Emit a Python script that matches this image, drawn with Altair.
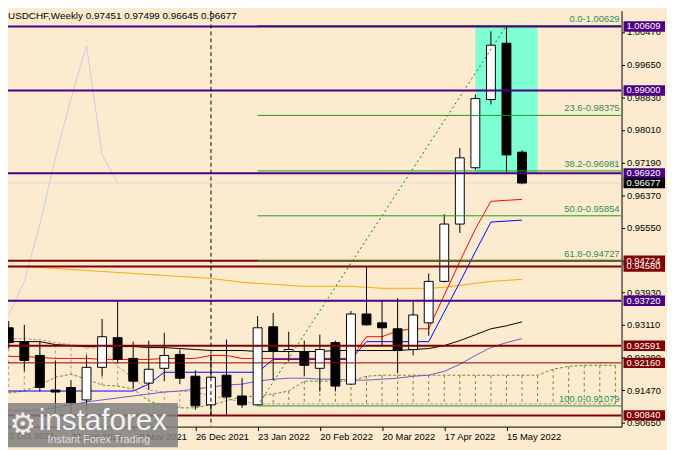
import json
import pandas as pd
import altair as alt

# ---------------- data ----------------
title_text = "USDCHF,Weekly  0.97451 0.97499 0.96645 0.96677"

week_idx = list(range(34))
opens = [0.93041, 0.92693, 0.92346, 0.91477, 0.91541, 0.91229, 0.92048, 0.92793, 0.92272, 0.91651,
         0.92023, 0.92371, 0.91825, 0.91105, 0.91850, 0.91329, 0.91105, 0.93066, 0.92445, 0.92445,
         0.92023, 0.92669, 0.91626, 0.93388, 0.93165, 0.93016, 0.92495, 0.93165, 0.94207, 0.95646,
         0.97061, 0.98773, 1.00187, 0.97451]
highs = [0.93214, 0.93115, 0.92693, 0.92222, 0.91726, 0.92346, 0.93264, 0.93711, 0.92693, 0.92718,
         0.92917, 0.92495, 0.91974, 0.92371, 0.92743, 0.91775, 0.93338, 0.93413, 0.92941, 0.92718,
         0.92867, 0.92718, 0.93462, 0.94579, 0.93711, 0.93785, 0.93686, 0.94406, 0.95894, 0.97557,
         0.98897, 1.00485, 1.00609, 0.97499]
lows = [0.92520, 0.91949, 0.91442, 0.90900, 0.90907, 0.90981, 0.91825, 0.92147, 0.91527, 0.91477,
        0.91701, 0.91626, 0.90981, 0.90832, 0.90857, 0.91031, 0.91079, 0.91726, 0.92197, 0.91825,
        0.91442, 0.91442, 0.91601, 0.93090, 0.92569, 0.91899, 0.92346, 0.92842, 0.94182, 0.95423,
        0.97011, 0.98649, 0.96920, 0.96645]
closes = [0.92669, 0.92222, 0.91541, 0.91428, 0.91155, 0.92048, 0.92817, 0.92247, 0.91701, 0.91999,
          0.92346, 0.91775, 0.91080, 0.91800, 0.91304, 0.91105, 0.93041, 0.92445, 0.92495, 0.92098,
          0.92495, 0.91577, 0.93388, 0.93115, 0.93041, 0.92470, 0.93363, 0.94207, 0.95646, 0.97309,
          0.98798, 1.00138, 0.97383, 0.96677]

tenkan = [0.92321, 0.92321, 0.92296, 0.92272, 0.92272, 0.92272, 0.92247, 0.92247, 0.92247, 0.92247,
          0.92272, 0.92272, 0.92272, 0.92346, 0.92346, 0.92272, 0.92272, 0.92272, 0.92272, 0.92272,
          0.92272, 0.92272, 0.92272, 0.92817, 0.92817, 0.92966, 0.93016, 0.93016, 0.93860, 0.94703,
          0.95522, 0.96217, 0.96242, 0.96267]
kijun = [0.91453, 0.91453, 0.91453, 0.91453, 0.91453, 0.91453, 0.91453, 0.91453, 0.91453, 0.91626,
         0.91924, 0.91924, 0.91924, 0.91924, 0.91924, 0.91924, 0.91924, 0.92247, 0.92247, 0.92247,
         0.92247, 0.92247, 0.92247, 0.92693, 0.92693, 0.92693, 0.92693, 0.92693, 0.93438, 0.94182,
         0.94951, 0.95696, 0.95721, 0.95745]
ma_black = [0.92693, 0.92693, 0.92693, 0.92619, 0.92594, 0.92569, 0.92569, 0.92569, 0.92569, 0.92544,
            0.92544, 0.92520, 0.92495, 0.92470, 0.92470, 0.92470, 0.92445, 0.92445, 0.92445, 0.92445,
            0.92445, 0.92470, 0.92470, 0.92470, 0.92470, 0.92470, 0.92495, 0.92520, 0.92594, 0.92718,
            0.92867, 0.93016, 0.93090, 0.93190]
ma_slate = [0.90956, 0.90956, 0.90981, 0.91031, 0.91105, 0.91180, 0.91229, 0.91279, 0.91329, 0.91378,
            0.91428, 0.91453, 0.91502, 0.91552, 0.91602, 0.91626, 0.91701, 0.91750, 0.91775, 0.91775,
            0.91750, 0.91750, 0.91726, 0.91726, 0.91750, 0.91775, 0.91825, 0.91850, 0.91949, 0.92123,
            0.92346, 0.92544, 0.92669, 0.92768]
ma_orange = [0.94579, 0.94579, 0.94554, 0.94530, 0.94505, 0.94480, 0.94455, 0.94430, 0.94406, 0.94381,
             0.94356, 0.94331, 0.94306, 0.94281, 0.94232, 0.94182, 0.94157, 0.94133, 0.94108, 0.94083,
             0.94083, 0.94083, 0.94083, 0.94058, 0.94033, 0.94033, 0.94033, 0.94033, 0.94058, 0.94108,
             0.94157, 0.94207, 0.94232, 0.94257]

cloud_idx = list(range(40))
span_a = [0.91403, 0.91453, 0.91602, 0.91800, 0.91874, 0.91750, 0.91602, 0.91577, 0.91502, 0.91205,
          0.91080, 0.91031, 0.91031, 0.91105, 0.91205, 0.91304, 0.91329, 0.91378, 0.91453, 0.91701,
          0.91701, 0.91701, 0.91701, 0.91825, 0.91850, 0.91850, 0.91850, 0.91850, 0.91850, 0.91850,
          0.91850, 0.91850, 0.91850, 0.91850, 0.91850, 0.91999, 0.92073, 0.92098, 0.92098, 0.92098]
span_b = [0.92768, 0.92768, 0.92743, 0.92669, 0.92619, 0.92544, 0.92520, 0.92073, 0.91775, 0.91477,
          0.91428, 0.91453, 0.91428, 0.91329, 0.91254, 0.91180, 0.91130, 0.91130, 0.91130, 0.91130,
          0.91130, 0.91130, 0.91130, 0.91130, 0.91130, 0.91130, 0.91130, 0.91130, 0.91130, 0.91130,
          0.91130, 0.91130, 0.91130, 0.91130, 0.91130, 0.91130, 0.91130, 0.91130, 0.91130, 0.91130]

chikou_idx = [0, 1, 2, 3, 4, 5, 6, 7]
chikou = [0.93363, 0.94207, 0.95646, 0.97309, 0.98798, 1.00138, 0.97383, 0.96677]

purple_levels = [1.00609, 0.99000, 0.96920, 0.93720]
maroon_levels = [0.94724, 0.94580, 0.92591, 0.90840]
maroon_thin_levels = [0.92160]
bid_price = [0.96677]

fib_names = ["0.0", "23.6", "38.2", "50.0", "61.8", "100.0"]
fib_prices = [1.00629, 0.98375, 0.96981, 0.95854, 0.94727, 0.91079]
fib_anchor_idx = [16, 32]
fib_anchor_price = [0.91079, 1.00629]

box_idx = [30, 34]
box_prices = [0.96920, 1.00629]

vline_idx = [13]

axis_prices = [1.00470, 0.99650, 0.98830, 0.98010, 0.97190, 0.96370, 0.95550,
               0.94730, 0.93930, 0.93110, 0.92290, 0.91470, 0.90650]
date_tick_idx = [0, 4, 8, 12, 16, 20, 24, 28, 32]
date_labels = ["3 Oct 2021", "31 Oct 2021", "28 Nov 2021", "26 Dec 2021", "23 Jan 2022",
               "20 Feb 2022", "20 Mar 2022", "17 Apr 2022", "15 May 2022"]

tag_prices = [1.00609, 0.99000, 0.96920, 0.93720, 0.94724, 0.94580, 0.92591, 0.92160, 0.90840, 0.96677]
tag_colors = ["#4b0082", "#4b0082", "#4b0082", "#4b0082", "#800000", "#800000", "#800000",
              "#800000", "#800000", "#000000"]

# ---------------- layout / style ----------------
W, H = 621, 421
FONT = "Liberation Sans"
BG = "#fdebd0"

XS = alt.Scale(domain=[0.26875, 39.08125], nice=False, zero=False)
YS = alt.Scale(domain=[0.905593, 1.01006], nice=False, zero=False)

label_map = {str(i): l for i, l in zip(date_tick_idx, date_labels)}
XA = alt.Axis(values=date_tick_idx[1:], labelExpr=json.dumps(label_map) + "[datum.value]",
              title=None, grid=False, orient="bottom", domainColor="black", tickColor="black",
              tickSize=4, labelFont=FONT, labelFontSize=9.5, labelColor="black",
              labelAlign="left", labelBaseline="top", labelPadding=1, labelFlush=False,
              labelOverlap=False)
YA = alt.Axis(values=axis_prices, format=".5f", orient="right", title=None, grid=False,
              domainColor="black", tickColor="black", tickSize=3, labelFont=FONT,
              labelFontSize=9.5, labelColor="black", labelPadding=2, labelAlign="left",
              labelBaseline="middle", labelOverlap=False, labelFlush=False)


def X(f):
    return alt.X(f, type="quantitative", scale=XS, axis=XA)


def Y(f):
    return alt.Y(f, type="quantitative", scale=YS, axis=YA)


candles = pd.DataFrame({"idx": week_idx, "open": opens, "high": highs, "low": lows, "close": closes})
ind = pd.DataFrame({"idx": week_idx, "tenkan": tenkan, "kijun": kijun, "black": ma_black,
                    "slate": ma_slate, "orange": ma_orange})
cloud = pd.DataFrame({"idx": cloud_idx, "a": span_a, "b": span_b})
chik = pd.DataFrame({"idx": chikou_idx, "v": chikou})
fib = pd.DataFrame({"name": fib_names, "price": fib_prices, "start": [fib_anchor_idx[0]] * len(fib_prices)})
fib["label"] = fib["name"] + "-" + fib["price"].map(lambda v: f"{v:.5f}")
diag = pd.DataFrame({"idx": fib_anchor_idx, "price": fib_anchor_price})
box = pd.DataFrame({"x1": [box_idx[0]], "x2": [box_idx[1]], "y1": [box_prices[0]], "y2": [box_prices[1]]})
tags = pd.DataFrame({"price": tag_prices, "col": tag_colors, "order": list(range(len(tag_prices)))})
one = pd.DataFrame({"t": [title_text]})

layers = []

# aquamarine rectangle
layers.append(alt.Chart(box).mark_rect(color="#7fffd4", clip=True).encode(
    x=X("x1"), x2="x2", y=Y("y1"), y2="y2"))

# ichimoku cloud hatching + spans
layers.append(alt.Chart(cloud).mark_rule(strokeDash=[3, 3], strokeWidth=1, clip=True).encode(
    x=X("idx"), y=Y("a"), y2="b",
    color=alt.condition("datum.a > datum.b", alt.value("#6b8e23"), alt.value("#bc8f8f"))))
layers.append(alt.Chart(cloud).mark_line(color="#bc8f8f", strokeDash=[3, 2], strokeWidth=1, clip=True).encode(
    x=X("idx"), y=Y("b")))
layers.append(alt.Chart(cloud).mark_line(color="#6b8e23", strokeDash=[3, 2], strokeWidth=1, clip=True).encode(
    x=X("idx"), y=Y("a")))

# bid line
layers.append(alt.Chart(pd.DataFrame({"p": bid_price})).mark_rule(color="#d9d9e6", strokeWidth=1, clip=True).encode(
    y=Y("p")))

# indicator lines
for field, col in [("orange", "#ffa500"), ("slate", "#6a5acd"), ("black", "#000000"),
                   ("tenkan", "#ff0000"), ("kijun", "#0000ff")]:
    layers.append(alt.Chart(ind).mark_line(color=col, strokeWidth=1, clip=True).encode(
        x=X("idx"), y=Y(field)))
layers.append(alt.Chart(chik).mark_line(color="#c6cbe4", strokeWidth=1, clip=True).encode(
    x=X("idx"), y=Y("v")))

# candles
layers.append(alt.Chart(candles).mark_rule(color="black", strokeWidth=1, clip=True).encode(
    x=X("idx"), y=Y("low"), y2="high"))
layers.append(alt.Chart(candles).mark_bar(size=9, stroke="black", strokeWidth=1, clip=True).encode(
    x=X("idx"), y=Y("open"), y2="close",
    fill=alt.condition("datum.close >= datum.open", alt.value("white"), alt.value("black"))))

# horizontal levels
layers.append(alt.Chart(pd.DataFrame({"p": maroon_thin_levels})).mark_rule(color="#800000", strokeWidth=1, clip=True).encode(y=Y("p")))
layers.append(alt.Chart(pd.DataFrame({"p": maroon_levels})).mark_rule(color="#800000", strokeWidth=2, clip=True).encode(y=Y("p")))

# fibonacci
layers.append(alt.Chart(fib).mark_rule(color="#1e9a1e", strokeWidth=1, clip=True).encode(
    x=X("start"), x2=alt.value(W), y=Y("price")))
layers.append(alt.Chart(pd.DataFrame({"p": purple_levels})).mark_rule(color="#4b0082", strokeWidth=2, clip=True).encode(y=Y("p")))
layers.append(alt.Chart(diag).mark_line(color="#008000", strokeDash=[2, 3], strokeWidth=1, clip=True).encode(
    x=X("idx"), y=Y("price")))
layers.append(alt.Chart(fib).mark_text(align="right", baseline="bottom", dy=-2, font=FONT, fontSize=9.5,
                                       color="#2e8b57").encode(
    x=alt.value(W - 2), y=Y("price"), text="label:N"))

# vertical dashed line
layers.append(alt.Chart(pd.DataFrame({"i": vline_idx})).mark_rule(color="black", strokeDash=[4, 3], strokeWidth=1, clip=True).encode(
    x=X("i")))

# price tags on the right axis
layers.append(alt.Chart(tags).mark_point(shape="M-1,-0.25H1V0.25H-1Z", size=42 * 42, filled=True,
                                          opacity=1, strokeWidth=0).encode(
    x=alt.value(W + 23), y=Y("price"), color=alt.Color("col:N", scale=None), order="order:Q"))
layers.append(alt.Chart(tags).mark_text(align="left", baseline="middle", font=FONT, fontSize=9.5,
                                        color="white").encode(
    x=alt.value(W + 5), y=Y("price"), text=alt.Text("price:Q", format=".5f"), order="order:Q"))

# first date label (left of the visible area)
layers.append(alt.Chart(pd.DataFrame({"i": date_tick_idx[:1], "l": date_labels[:1]})).mark_text(
    align="left", baseline="top", font=FONT, fontSize=9.5, color="black").encode(
    x=X("i"), y=alt.value(H + 5), text="l:N"))

# title
layers.append(alt.Chart(one).mark_text(align="left", baseline="alphabetic", font=FONT, fontSize=10,
                                       color="black").encode(
    x=alt.value(0), y=alt.value(8), text="t:N"))

# watermark
layers.append(alt.Chart(one).mark_rect(color="#808080", opacity=0.85).encode(
    x=alt.value(-8), x2=alt.value(172), y=alt.value(397), y2=alt.value(442)))
layers.append(alt.Chart(pd.DataFrame({"t": ["\u2699"]})).mark_text(
    align="center", baseline="middle", font="DejaVu Sans", fontSize=30, color="#eeeeee").encode(
    x=alt.value(15), y=alt.value(419), text="t:N"))
layers.append(alt.Chart(pd.DataFrame({"t": ["instaforex"]})).mark_text(
    align="left", baseline="alphabetic", font=FONT, fontSize=30, color="#f2f2f2").encode(
    x=alt.value(31), y=alt.value(424), text="t:N"))
layers.append(alt.Chart(pd.DataFrame({"t": ["Instant Forex Trading"]})).mark_text(
    align="left", baseline="alphabetic", font=FONT, fontSize=11, color="#dedede").encode(
    x=alt.value(40), y=alt.value(438), text="t:N"))

chart = alt.layer(*layers).properties(
    width=W, height=H,
    autosize=alt.AutoSizeParams(type="none"),
    padding={"left": 0, "top": 0, "right": 46, "bottom": 21},
    background=BG,
).configure_view(stroke=None)

chart.save("out.html", embed_options={"renderer": "svg", "actions": False})
